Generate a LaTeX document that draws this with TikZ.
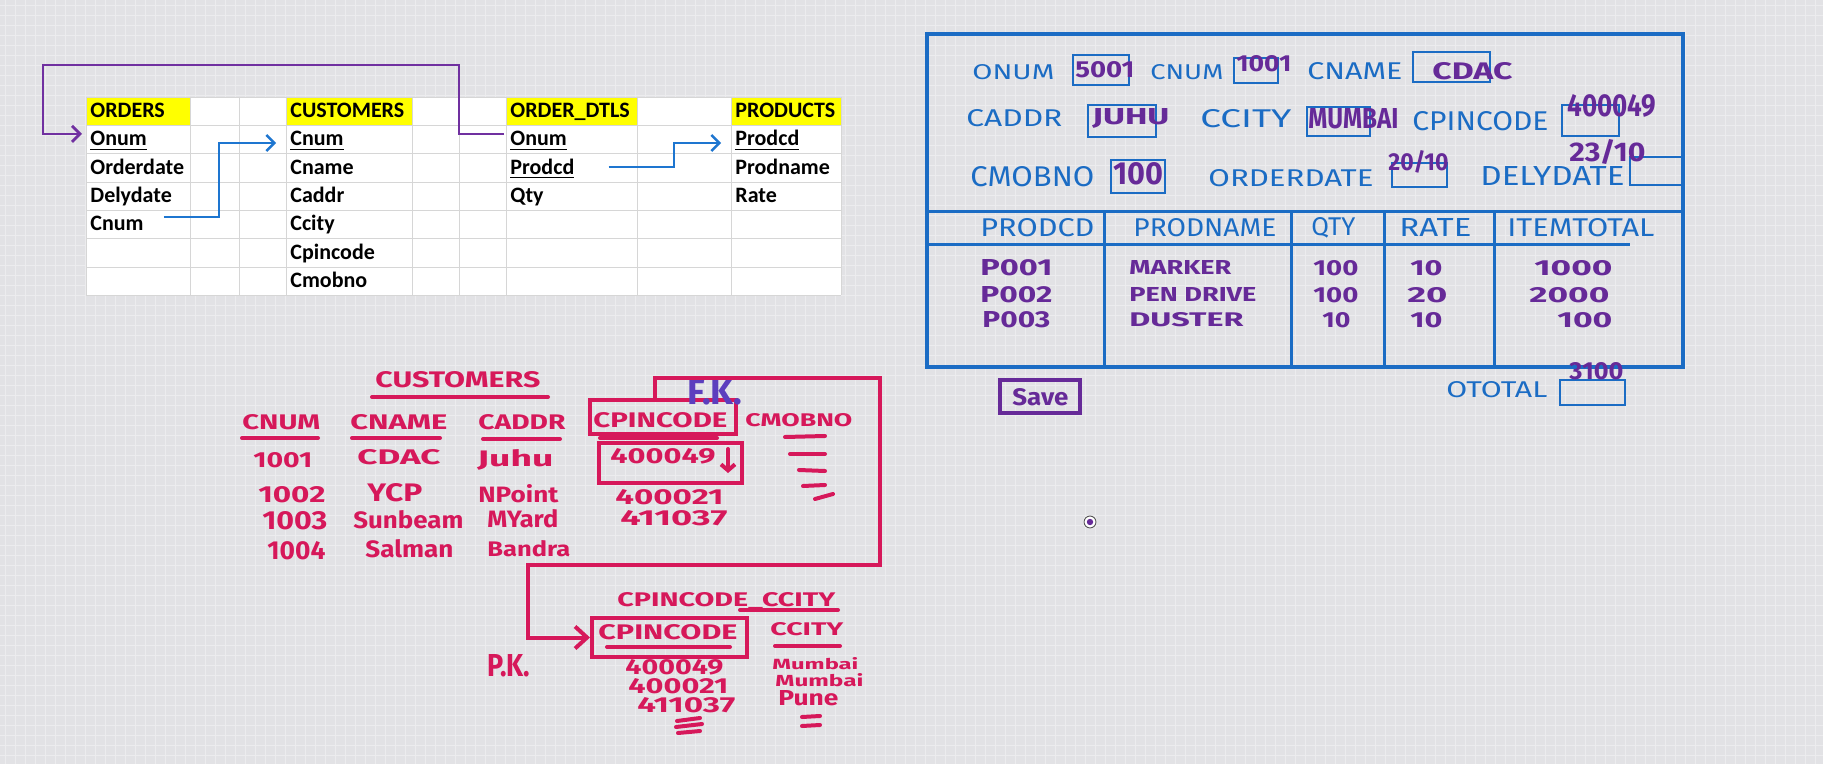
\documentclass[tikz,border=0pt]{standalone}
\usepackage{graphicx}
\usepackage{fontspec}
\setmainfont{Carlito}
\newfontfamily\hand{Fira Sans}
\usetikzlibrary{arrows.meta}
\newdimen\pxu \pxu=0.5pt
\newcommand\hw[3]{\resizebox{#1\pxu}{#2\pxu}{#3}}
\definecolor{fblue}{RGB}{27,108,196}
\definecolor{fpurp}{RGB}{102,42,152}
\definecolor{pink}{RGB}{214,24,90}
\definecolor{fkcol}{RGB}{92,62,190}
\definecolor{xlpurp}{RGB}{112,48,160}
\definecolor{xlblue}{RGB}{30,118,208}
\definecolor{bgc}{RGB}{226,226,229}
\definecolor{gridc}{RGB}{236,236,238}
\definecolor{cellg}{RGB}{214,214,214}
\definecolor{xlyel}{RGB}{255,255,0}
\tikzset{
  hb/.style={inner sep=0pt, anchor=west, text=fblue, font=\hand},
  hv/.style={inner sep=0pt, anchor=west, text=fpurp, font=\hand\bfseries},
  hp/.style={inner sep=0pt, anchor=west, text=pink, font=\hand\bfseries},
  xl/.style={inner sep=0pt, anchor=base west, font=\bfseries\fontsize{11}{13}\selectfont},
  fbx/.style={draw=fblue, line width=1.4pt},
  fln/.style={draw=fblue, line width=1.5pt},
  pkl/.style={draw=pink, line width=2pt, line cap=round},
  pkbox/.style={draw=pink, line width=2pt, inner sep=0pt, anchor=north west},
  xlp/.style={draw=xlpurp, line width=1pt, -{Straight Barb[length=4pt,width=8pt,line width=1.4pt]}},
  xlb/.style={draw=xlblue, line width=1pt, -{Straight Barb[length=4pt,width=8pt,line width=1.2pt]}},
}
\begin{document}
\begin{tikzpicture}[x=0.5pt,y=-0.5pt]
\useasboundingbox (0,0) rectangle (1823,764);
% background grid paper
\fill[bgc] (0,0) rectangle (1823,764);
\foreach \i in {5,15,...,1823} \draw[gridc, line width=0.3pt] (\i,0) -- (\i,764);
\foreach \j in {5,15,...,764} \draw[gridc, line width=0.3pt] (0,\j) -- (1823,\j);

% ================= spreadsheet =================
\fill[white] (86,97) rectangle (841,295);
\foreach \a/\b in {86/190.6, 286/412, 506/637, 731/841} \fill[xlyel] (\a,97) rectangle (\b,125);
\foreach \x in {86,190.6,239,286,412,459,506,637,731,841} \draw[cellg, line width=0.4pt] (\x,97) -- (\x,295);
\foreach \y in {97,125,153,182,210,238,267,295} \draw[cellg, line width=0.4pt] (86,\y) -- (841,\y);

\node[xl] (oHdr)  at (90,118) {ORDERS};
\node[xl] (oOnum) at (90,146) {\underline{Onum}};
\node[xl] (oOdt)  at (90,174.5) {Orderdate};
\node[xl] (oDdt)  at (90,203) {Delydate};
\node[xl] (oCnum) at (90,231) {Cnum};

\node[xl] (cHdr)  at (290,118) {CUSTOMERS};
\node[xl] (cCnum) at (290,146) {\underline{Cnum}};
\node[xl] (cName) at (290,174.5) {Cname};
\node[xl] (cAddr) at (290,203) {Caddr};
\node[xl] (cCity) at (290,231) {Ccity};
\node[xl] (cPin)  at (290,259.5) {Cpincode};
\node[xl] (cMob)  at (290,288) {Cmobno};

\node[xl] (dHdr)  at (510,118) {ORDER\_DTLS};
\node[xl] (dOnum) at (510,146) {\underline{Onum}};
\node[xl] (dProd) at (510,174.5) {\underline{Prodcd}};
\node[xl] (dQty)  at (510,203) {Qty};

\node[xl] (pHdr)  at (735,118) {PRODUCTS};
\node[xl] (pProd) at (735,146) {\underline{Prodcd}};
\node[xl] (pName) at (735,174.5) {Prodname};
\node[xl] (pRate) at (735,203) {Rate};

\coordinate (pR) at (459,65);
\coordinate (pL) at (43,65);
\draw[xlp] ([xshift=-3pt,yshift=3.5pt]dOnum.west) -| (pR) -- (pL) |- ([xshift=-4pt,yshift=3.5pt]oOnum.west);
\coordinate (q1) at (219,143);
\draw[xlb, shorten >=7pt] ([xshift=10pt,yshift=3.5pt]oCnum.east) -| (q1) -- (q1 -| cCnum.west);
\coordinate (q2) at (674,143);
\draw[xlb, shorten >=7pt] ([xshift=17pt,yshift=1pt]dProd.east) -| (q2) -- (q2 -| pProd.west);

% ================= blue form =================
\draw[fblue, line width=2pt] (927,34) rectangle (1683,367);
\node[hb] (fOnum)  at (972,72)  {\hw{82}{15}{ONUM}};
\node[hb] (fCnum)  at (1150,72) {\hw{73}{15}{CNUM}};
\node[hb] (fCname) at (1307,71) {\hw{95}{17}{CNAME}};
\node[hb] (fCaddr) at (966,118) {\hw{96}{17}{CADDR}};
\node[hb] (fCcity) at (1200,119) {\hw{91}{18}{CCITY}};
\node[hb] (fCpin)  at (1412,121) {\hw{136}{19}{CPINCODE}};
\node[hb] (fCmob)  at (970,177) {\hw{124}{20}{CMOBNO}};
\node[hb] (fOdt)   at (1208,178) {\hw{165}{17}{ORDERDATE}};
\node[hb] (fDdt)   at (1480,176) {\hw{144}{19}{DELYDATE}};
\draw[fbx] (1073,55) rectangle (1129,85);
\draw[fbx] (1234,58) rectangle (1278,83);
\draw[fbx] (1413,52) rectangle (1490,82);
\draw[fbx] (1088,105) rectangle (1156,137);
\draw[fbx] (1307,107) rectangle (1370,136);
\draw[fbx] (1562,105) rectangle (1619,136);
\draw[fbx] (1111,160) rectangle (1165,193);
\draw[fbx] (1392,163) rectangle (1447,187);
\draw[fbx] (1630,157) rectangle (1683,185);
\node[hv] (vOnum)  at (1075,70)  {\hw{59}{16}{5001}};
\node[hv] (vCnum)  at (1236,64)  {\hw{55}{16}{1001}};
\node[hv] (vCname) at (1432,71)  {\hw{80}{17}{CDAC}};
\node[hv] (vCaddr) at (1092,118) {\hw{77}{16}{JUHU}};
\node[hv] (vCcity) at (1308,119) {\hw{90}{20}{MUMBAI}};
\node[hv] (vCpin)  at (1567,106) {\hw{89}{22}{400049}};
\node[hv] (vCmob)  at (1113,174) {\hw{50}{22}{100}};
\node[hv] (vOdt)   at (1388,162) {\hw{60}{20}{20/10}};
\node[hv] (vDdt)   at (1569,152) {\hw{76}{22}{23/10}};

\draw[fln] (927,212) -- (1683,212);
\draw[fln] (927,245) -- (1630,245);
\foreach \x in {1104,1291,1384,1494} \draw[fln] (\x,212) -- (\x,367);
\node[hb] (hProd)  at (980,228)  {\hw{114}{18}{PRODCD}};
\node[hb] (hPname) at (1133,228) {\hw{143}{18}{PRODNAME}};
\node[hb] (hQty)   at (1311,228) {\hw{44}{18}{QTY}};
\node[hb] (hRate)  at (1399,228) {\hw{72}{18}{RATE}};
\node[hb] (hItem)  at (1507,228) {\hw{147}{18}{ITEMTOTAL}};

\node[hv] (r1a) at (980,268) {\hw{72}{16}{P001}};
\node[hv] (r2a) at (980,295) {\hw{72}{16}{P002}};
\node[hv] (r3a) at (982,320) {\hw{68}{16}{P003}};
\node[hv] (r1b) at (1129,268) {\hw{102}{14}{MARKER}};
\node[hv] (r2b) at (1129,295) {\hw{127}{14}{PEN DRIVE}};
\node[hv] (r3b) at (1129,320) {\hw{114}{14}{DUSTER}};
\node[hv] (r1c) at (1313,268) {\hw{45}{15}{100}};
\node[hv] (r2c) at (1313,295) {\hw{45}{15}{100}};
\node[hv] (r3c) at (1322,320) {\hw{28}{15}{10}};
\node[hv] (r1d) at (1410,268) {\hw{32}{15}{10}};
\node[hv] (r2d) at (1407,295) {\hw{40}{15}{20}};
\node[hv] (r3d) at (1410,320) {\hw{32}{15}{10}};
\node[hv] (r1e) at (1534,268) {\hw{78}{15}{1000}};
\node[hv] (r2e) at (1529,295) {\hw{80}{15}{2000}};
\node[hv] (r3e) at (1557,320) {\hw{55}{15}{100}};

\draw[fpurp, line width=2pt] (1000,380) rectangle (1080,413);
\node[hv] (save) at (1012,397) {\hw{56}{17}{Save}};
\node[hb] (otot) at (1446,390) {\hw{101}{16}{OTOTAL}};
\draw[fbx] (1560,380) rectangle (1625,405);
\node[hv] (otv) at (1569,371) {\hw{54}{17}{3100}};

% cursor
\draw[white, line width=1pt, fill=white] (1090,522) circle (6);
\draw[gray!70!black, line width=0.5pt] (1090,522) circle (6);
\fill[fpurp] (1090,522) circle (3.2);

% ================= pink: CUSTOMERS =================
\node[hp] (kTitle) at (375,380) {\hw{165}{16}{CUSTOMERS}};
\draw[pkl] (372,397) -- (548,397);
\node[hp] (kCnum)  at (242,422) {\hw{78}{15}{CNUM}};
\node[hp] (kCname) at (350,422) {\hw{97}{15}{CNAME}};
\node[hp] (kCaddr) at (478,422) {\hw{87}{15}{CADDR}};
\node[pkbox, minimum width=73pt, minimum height=17pt] (kPinBox) at (588,398) {};
\node[hp] (kCpin)  at (593,420) {\hw{134}{15}{CPINCODE}};
\node[hp] (kCmob)  at (745,420) {\hw{107}{13}{CMOBNO}};
\draw[pkl] (242,438) -- (318,438);
\draw[pkl] (352,438) -- (440,438);
\draw[pkl] (483,439) -- (560,439);
\draw[pkl] (600,438) -- (717,438);
\node[fkcol, font=\hand\bfseries, inner sep=0pt, anchor=west] (fk) at (687,392) {\hw{55}{25}{F.K.}};

\node[hp] (k11) at (253,460) {\hw{59}{15}{1001}};
\node[hp] (k12) at (357,457) {\hw{83}{15}{CDAC}};
\node[hp] (k13) at (477,460) {\hw{76}{17}{Juhu}};
\node[pkbox, minimum width=71.5pt, minimum height=20pt] (kValBox) at (597,441) {};
\node[hp] (k14) at (610,456) {\hw{105}{15}{400049}};
\coordinate (dnA) at (728,449);
\coordinate (dnB) at (728,473);
\draw[pkl, -{Straight Barb[length=3pt,width=7pt]}] (dnA) -- (dnB);
\node[hp] (k21) at (258,495) {\hw{67}{16}{1002}};
\node[hp] (k22) at (367,493) {\hw{55}{18}{YCP}};
\node[hp] (k23) at (478,494) {\hw{80}{18}{NPoint}};
\node[hp] (k24) at (615,497) {\hw{108}{15}{400021}};
\node[hp] (k31) at (262,521) {\hw{65}{18}{1003}};
\node[hp] (k32) at (353,520) {\hw{110}{18}{Sunbeam}};
\node[hp] (k33) at (487,519) {\hw{71}{18}{MYard}};
\node[hp] (k34) at (620,518) {\hw{107}{15}{411037}};
\node[hp] (k41) at (267,551) {\hw{58}{18}{1004}};
\node[hp] (k42) at (365,549) {\hw{88}{18}{Salman}};
\node[hp] (k43) at (487,549) {\hw{83}{16}{Bandra}};
% CMOBNO dashes
\draw[pkl] (785,437) -- (825,436);
\draw[pkl] (790,454) -- (825,454);
\draw[pkl] (799,470) -- (825,471);
\draw[pkl] (803,486) -- (825,485);
\draw[pkl] (815,499) -- (833,494);

% ================= pink: CPINCODE_CCITY =================
\node[hp] (lTitle) at (617,599) {\hw{218}{14}{\raisebox{0pt}[\height][0pt]{CPINCODE\_CCITY}}};
\draw[pkl] (740,610) -- (838,610);
\node[pkbox, minimum width=77.5pt, minimum height=19.5pt] (lPinBox) at (590,616) {};
\node[hp] (lCpin) at (598,632) {\hw{139}{15}{CPINCODE}};
\draw[pkl] (607,647) -- (730,647);
\node[hp] (lCcity) at (770,629) {\hw{73}{13}{CCITY}};
\draw[pkl] (775,646) -- (840,646);
\node[hp] (l11) at (625,667) {\hw{98}{15}{400049}};
\node[hp] (l21) at (628,686) {\hw{100}{15}{400021}};
\node[hp] (l31) at (637,705) {\hw{98}{15}{411037}};
\node[hp] (l12) at (772,664) {\hw{86}{12}{Mumbai}};
\node[hp] (l22) at (775,680) {\hw{88}{13}{Mumbai}};
\node[hp] (l32) at (778,698) {\hw{60}{15}{Pune}};
\draw[pkl] (677,721) -- (700,718);
\draw[pkl] (676,727) -- (702,724);
\draw[pkl] (678,733) -- (700,731);
\draw[pkl] (802,717) -- (820,716);
\draw[pkl] (802,726) -- (820,725);
\node[hp] (pk) at (487,666) {\hw{43}{22}{P.K.}};

% pink connector (FK -> PK)
\coordinate (k1) at (655,378);
\coordinate (k2) at (880,378);
\coordinate (k4) at (528,565);
\draw[pkl, line cap=butt, -{Straight Barb[length=6pt,width=11pt]}]
  (kPinBox.north -| k1) |- (k2) |- (k4) |- (lPinBox.west);
\end{tikzpicture}
\end{document}
